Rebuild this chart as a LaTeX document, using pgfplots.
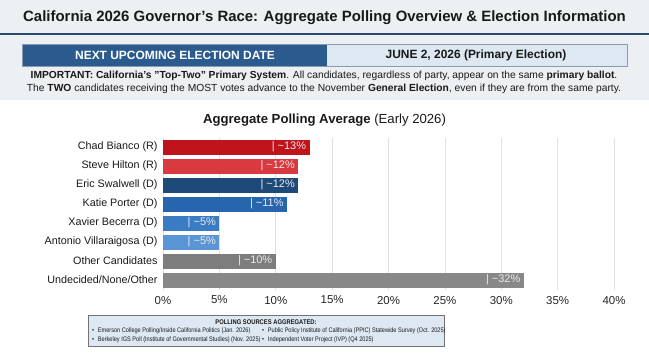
\documentclass[border=0pt]{standalone}
\usepackage{pgfplots}
\pgfplotsset{compat=1.18}
\usepackage{fontspec}
\setmainfont{Liberation Sans}
\newfontfamily\condfont[FakeStretch=0.86]{Liberation Sans}
\definecolor{bgtop}{HTML}{EDF0F3}
\definecolor{bgbot}{HTML}{FAFAFA}
\definecolor{navy}{HTML}{2C4A6E}
\definecolor{boxblue}{HTML}{2B5B8E}
\definecolor{boxlight}{HTML}{DDE8F3}
\definecolor{boxline}{HTML}{8A9AB0}
\definecolor{cA}{HTML}{C0141C}
\definecolor{cB}{HTML}{D83A3F}
\definecolor{cC}{HTML}{1E4A7A}
\definecolor{cD}{HTML}{2766AE}
\definecolor{cE}{HTML}{3A7CC4}
\definecolor{cF}{HTML}{5A95D5}
\definecolor{cG}{HTML}{7D7D7D}
\definecolor{cH}{HTML}{888888}
\newcommand{\src}[1]{\scalebox{0.85}[1]{\fontsize{6.6}{7.6}\selectfont\textbullet\hspace{4.5bp}#1}}
\begin{document}
\begin{tikzpicture}[x=1bp,y=-1bp]
\path[use as bounding box] (0,0) rectangle (649,354);
\fill[bgbot] (0,0) rectangle (649,354);
\fill[bgtop] (0,0) rectangle (649,100);
\fill[white] (0,100) rectangle (649,354);
\draw[navy, line width=2bp] (0,34) -- (649,34);
\node[font=\fontsize{15}{17}\selectfont\bfseries, text=black!90] at (324.5,18) {California 2026 Governor’s Race: Aggregate Polling Overview \& Election Information};
% election date box
\fill[boxlight] (22,44) rectangle (627,66);
\fill[boxblue] (22,44) rectangle (327,66);
\draw[boxline, line width=0.8bp] (22,44) rectangle (627,66);
\node[font=\fontsize{12}{13}\selectfont\bfseries, text=white] at (175,55) {NEXT UPCOMING ELECTION DATE};
\node[font=\fontsize{12}{13}\selectfont\bfseries, text=black!90] at (476,55) {JUNE 2, 2026 (Primary Election)};
\node[font=\fontsize{10.3}{11}\selectfont, text=black!90] at (324,76) {\textbf{IMPORTANT: California's "Top-Two" Primary System}. All candidates, regardless of party, appear on the same \textbf{primary ballot}.};
\node[font=\fontsize{10.3}{11}\selectfont, text=black!90] at (324,89) {The \textbf{TWO} candidates receiving the MOST votes advance to the November \textbf{General Election}, even if they are from the same party.};
% chart title
\node[font=\fontsize{13.2}{15}\selectfont, text=black!90] at (324.5,120) {\textbf{Aggregate Polling Average} (Early 2026)};
\begin{axis}[
  at={(163bp,-289.5bp)}, anchor=south west,
  scale only axis, width=451bp, height=152bp,
  xbar, bar width=15bp, bar shift=0pt,
  xmin=0, xmax=40, ymin=-0.5, ymax=7.5, y dir=reverse,
  xtick={0,5,...,40},
  xticklabel={\pgfmathprintnumber{\tick}\%},
  xticklabel style={font=\fontsize{11.5}{13}\selectfont, text=black!85, yshift=-3bp},
  /pgf/number format/assume math mode=true,
  ytick={0,...,7},
  yticklabels={Chad Bianco (R),Steve Hilton (R),Eric Swalwell (D),Katie Porter (D),Xavier Becerra (D),Antonio Villaraigosa (D),Other Candidates,Undecided/None/Other},
  yticklabel style={font=\fontsize{10.8}{12}\selectfont, text=black!90, xshift=-2bp},
  axis line style={draw=none},
  major tick length=0pt,
  xmajorgrids, grid style={black!12, line width=0.7bp},
  nodes near coords={\textbar\ \textasciitilde\pgfmathprintnumber{\pgfplotspointmeta}\%},
  nodes near coords style={anchor=east, text=white!92!black, font=\fontsize{11}{12}\selectfont, xshift=0bp},
  point meta=x,
]
\addplot[fill=cA, draw=none] coordinates {(13,0)};
\addplot[fill=cB, draw=none] coordinates {(12,1)};
\addplot[fill=cC, draw=none] coordinates {(12,2)};
\addplot[fill=cD, draw=none] coordinates {(11,3)};
\addplot[fill=cE, draw=none] coordinates {(5,4)};
\addplot[fill=cF, draw=none] coordinates {(5,5)};
\addplot[fill=cG, draw=none] coordinates {(10,6)};
\addplot[fill=cH, draw=none] coordinates {(32,7)};
\end{axis}
% sources box
\fill[boxlight] (88,315) rectangle (444,346);
\draw[black!55, line width=0.8bp] (88,315) rectangle (444,346);
\node[font=\fontsize{6.8}{8}\selectfont\bfseries\condfont, text=black!90] at (266,322) {POLLING SOURCES AGGREGATED:};
\begin{scope}[every node/.style={text=black!90, anchor=west, inner sep=0pt}]
\node at (92,330.5) {\src{Emerson College Polling/Inside California Politics (Jan. 2026)}};
\node at (92,339.5) {\src{Berkeley IGS Poll (Institute of Governmental Studies) (Nov. 2025)}};
\node at (262,330.5) {\src{Public Policy Institute of California (PPIC) Statewide Survey (Oct. 2025)}};
\node at (262,339.5) {\src{Independent Voter Project (IVP) (Q4 2025)}};
\end{scope}
\end{tikzpicture}
\end{document}
